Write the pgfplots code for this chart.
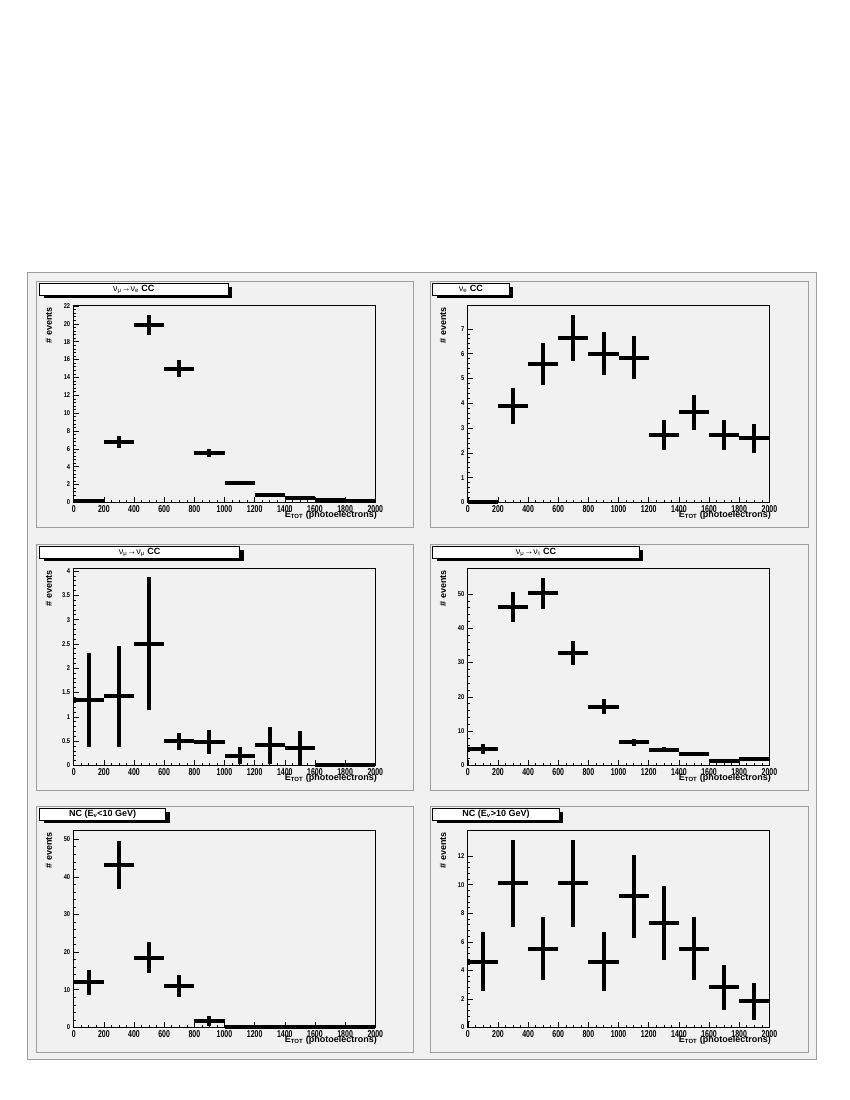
\documentclass[border=0pt]{standalone}
\usepackage{fontspec}
\setmainfont{Liberation Sans}
\newfontfamily\xtickfont[FakeStretch=0.7]{Liberation Sans}
\newfontfamily\ytickfont[FakeStretch=0.82]{Liberation Sans}
\usepackage{pgfplots}
\pgfplotsset{compat=1.18}
\usepackage{pgfplotstable}

\definecolor{padbg}{gray}{0.945}
\definecolor{border}{gray}{0.62}

% x = bin centre, y = content, e = error
\pgfplotstableread{
x y e
100 0.15 0.05
300 6.8 0.65
500 19.9 1.15
700 15.0 0.9
900 5.55 0.45
1100 2.2 0.15
1300 0.85 0.08
1500 0.45 0.05
1700 0.25 0.03
1900 0.18 0.03
}\tabA
\pgfplotstableread{
x y e
100 0.03 0.02
300 3.89 0.71
500 5.59 0.85
700 6.64 0.92
900 5.99 0.87
1100 5.84 0.87
1300 2.72 0.59
1500 3.63 0.69
1700 2.72 0.59
1900 2.58 0.57
}\tabB
\pgfplotstableread{
x y e
100 1.34 0.97
300 1.42 1.04
500 2.50 1.37
700 0.495 0.17
900 0.48 0.24
1100 0.20 0.18
1300 0.41 0.39
1500 0.36 0.35
1700 0.01 0
1900 0.01 0
}\tabC
\pgfplotstableread{
x y e
100 4.77 1.5
300 46.2 4.4
500 50.2 4.5
700 32.7 3.5
900 17.1 2.2
1100 6.7 1.07
1300 4.57 0.8
1500 3.4 0.6
1700 1.26 0.2
1900 1.95 0.2
}\tabD
\pgfplotstableread{
x y e
100 12.0 3.3
300 43.2 6.3
500 18.5 4.1
700 11.05 3.0
900 1.75 1.3
1100 0.1 0
1300 0.1 0
1500 0.1 0
1700 0.1 0
1900 0.1 0
}\tabE
\pgfplotstableread{
x y e
100 4.62 2.04
300 10.1 3.04
500 5.53 2.22
700 10.1 3.04
900 4.62 2.04
1100 9.18 2.9
1300 7.35 2.6
1500 5.53 2.22
1700 2.8 1.58
1900 1.82 1.31
}\tabF

\pgfplotsset{
  rootaxis/.style={
    scale only axis, width=301.6pt, height=196.8pt, anchor=south west,
    xmin=0, xmax=2000, ymin=0,
    axis background/.style={fill=padbg},
    axis line style={line width=0.8pt},
    xtick={0,200,...,2000}, minor x tick num=3, minor y tick num=4,
    xtick pos=lower, ytick pos=left, tick align=inside,
    major tick length=5pt, minor tick length=2.5pt,
    tick style={black, line width=0.6pt},
    /pgf/number format/1000 sep={}, /pgf/number format/assume math mode=true,
    scaled ticks=false,
    x tick label style={font=\xtickfont\bfseries\fontsize{10}{11}\selectfont},
    y tick label style={font=\ytickfont\bfseries\fontsize{7}{8}\selectfont},
    xlabel={E\textsubscript{TOT} (photoelectrons)},
    ylabel={\# events},
    every axis x label/.style={at={(rel axis cs:1,0)}, anchor=base east,
      xshift=5pt, yshift=-15pt, font=\bfseries\fontsize{9}{10}\selectfont},
    every axis y label/.style={at={(rel axis cs:0,1)}, xshift=-21.7pt, yshift=2pt,
      rotate=90, anchor=base east, font=\bfseries\fontsize{9}{10}\selectfont},
    clip=false,
  },
  hist/.style={draw=none, mark=none, forget plot,
    error bars/.cd, x dir=both, x fixed=100, y dir=both, y explicit,
    error mark=none,
    error bar style={draw=black, line width=4pt, line cap=butt}},
}

\newcommand\titlebox[4]{%
  \fill[black] (#1+4,1100-#3-3.5) rectangle (#2+4,1100-#3-11.5-3.5);
  \filldraw[fill=white, draw=black, line width=0.8pt] (#1,1100-#3) rectangle (#2,1100-#3-11.5);
  \node[font=\fontsize{9}{10}\selectfont, inner sep=0pt] at ({(#1+#2)/2},1100-#3-5.75) {#4};
}

\begin{document}
\begin{tikzpicture}[x=1pt,y=1pt]
\useasboundingbox (0,0) rectangle (850,1100);
\filldraw[fill=padbg, draw=border, line width=0.8pt] (27.5,41) rectangle (816.5,828);
\foreach \l/\r in {36/413, 430/808}
  \foreach \t in {281,544,806}
    \filldraw[fill=padbg, draw=border, line width=0.8pt] (\l,1100-\t) rectangle (\r,1100-\t-246);

\begin{axis}[rootaxis, at={(73.7pt,597.6pt)}, ymax=22.05, ytick={0,2,...,22}]
\addplot[hist] table[x=x, y=y, y error=e] {\tabA};
\end{axis}
\begin{axis}[rootaxis, at={(467.8pt,597.6pt)}, ymax=7.94, ytick={0,1,...,7}]
\addplot[hist] table[x=x, y=y, y error=e] {\tabB};
\end{axis}
\begin{axis}[rootaxis, at={(73.7pt,334.6pt)}, ymax=4.05, ytick={0,0.5,...,4}]
\addplot[hist] table[x=x, y=y, y error=e] {\tabC};
\end{axis}
\begin{axis}[rootaxis, at={(467.8pt,334.6pt)}, ymax=57.4, ytick={0,10,...,50}]
\addplot[hist] table[x=x, y=y, y error=e] {\tabD};
\end{axis}
\begin{axis}[rootaxis, at={(73.7pt,72.6pt)}, ymax=52.3, ytick={0,10,...,50}]
\addplot[hist] table[x=x, y=y, y error=e] {\tabE};
\end{axis}
\begin{axis}[rootaxis, at={(467.8pt,72.6pt)}, ymax=13.8, ytick={0,2,...,12}]
\addplot[hist] table[x=x, y=y, y error=e] {\tabF};
\end{axis}

\titlebox{39.7}{228}{283.5}{ν\textsubscript{μ}→ν\textsubscript{e} \textbf{CC}}
\titlebox{432.7}{509}{283.5}{ν\textsubscript{e} \textbf{CC}}
\titlebox{39.7}{239.7}{546.5}{ν\textsubscript{μ}→ν\textsubscript{μ} \textbf{CC}}
\titlebox{432.7}{639.3}{546.5}{ν\textsubscript{μ}→ν\textsubscript{τ} \textbf{CC}}
\titlebox{39.7}{165.7}{808.5}{\textbf{NC (E\textsubscript{ν}<10 GeV)}}
\titlebox{432.7}{559.3}{808.5}{\textbf{NC (E\textsubscript{ν}>10 GeV)}}
\end{tikzpicture}
\end{document}
